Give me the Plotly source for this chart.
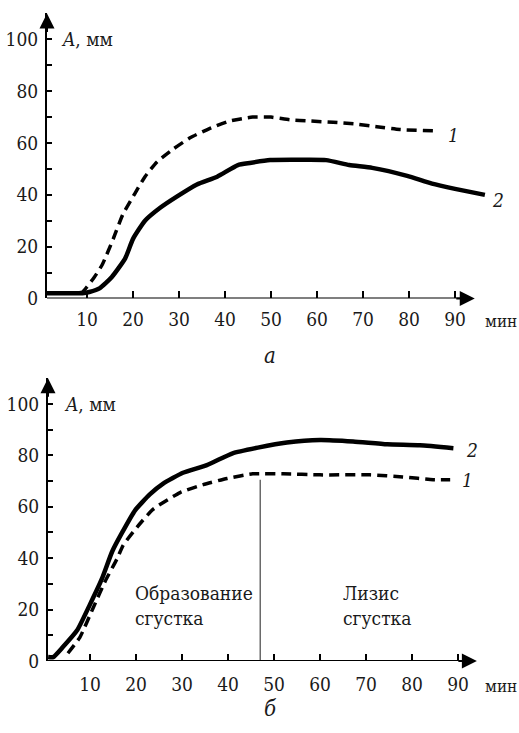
import plotly.graph_objects as go

# ---- data: panel "а" ----
a_t1 = [1.5, 4, 7, 9, 10, 11.5, 13.3, 15.7, 17.8, 20.4, 22.6, 25.2, 28.7, 32.4, 36.5, 41, 46, 50, 54, 58.5, 63.5, 68, 73, 78, 85.5]
a_v1 = [2, 2, 2, 2.5, 4.5, 8, 13, 23, 32.5, 40.5, 47, 52.7, 57.6, 62, 65.5, 68.5, 70, 70, 69, 68.5, 68, 67.4, 66.3, 65.2, 64.7]
a_t2 = [1.3, 4, 7, 9, 10.5, 12.8, 15.4, 18.3, 20, 22.6, 25.9, 29.6, 33.9, 38.3, 42.8, 45.4, 49.8, 55, 62, 67, 72, 79.6, 85, 90, 96.5]
a_v2 = [2, 2, 2, 2, 2.5, 4, 8.3, 15.5, 23, 30, 35, 39.4, 44, 47, 51.5, 52.3, 53.4, 53.5, 53.4, 51.5, 50.4, 47.3, 44.3, 42.3, 40]

# ---- data: panel "б" ----
b_t1 = [5.2, 7.8, 10.7, 13.3, 15.9, 17.2, 20.2, 23.7, 29.6, 34.6, 39.8, 45.4, 52, 60, 70.9, 78, 84.6, 88.3]
b_v1 = [3, 9.2, 20.7, 31, 39.8, 45, 52, 59, 65.5, 68.6, 71, 72.8, 72.8, 72.4, 72.4, 71.6, 70.5, 70.5]
b_t2 = [0.9, 2, 4.1, 7.2, 10, 12.6, 14.8, 17, 19.8, 23, 25.9, 30.2, 35.4, 41, 46.5, 52.8, 60, 67.2, 74.6, 81.7, 89]
b_v2 = [1.5, 1.5, 5.4, 11.9, 22, 32, 42.5, 50, 58.6, 64.8, 69, 73.2, 76.2, 80.8, 83, 85, 86, 85.4, 84.3, 83.9, 82.8]
lysis_t = [47, 47]
lysis_v = [0, 70.5]

x_ticks = [10, 20, 30, 40, 50, 60, 70, 80, 90]
y_ticks = [0, 10, 20, 30, 40, 50, 60, 70, 80, 90, 100]
y_ticktext = ["0", "", "20", "", "40", "", "60", "", "80", "", "100"]

W, H = 519, 733
FONT = "DejaVu Serif Condensed, DejaVu Serif, serif"
TXT = "#1a1a1a"

fig = go.Figure()
dash = "10px,6px"
fig.add_trace(go.Scatter(x=a_t1, y=a_v1, mode="lines", xaxis="x", yaxis="y",
                         line=dict(color="black", width=3.5, dash=dash, shape="spline", smoothing=0.5)))
fig.add_trace(go.Scatter(x=a_t2, y=a_v2, mode="lines", xaxis="x", yaxis="y",
                         line=dict(color="black", width=4.5, shape="spline", smoothing=0.5)))
fig.add_trace(go.Scatter(x=b_t1, y=b_v1, mode="lines", xaxis="x2", yaxis="y2",
                         line=dict(color="black", width=3.5, dash=dash, shape="spline", smoothing=0.5)))
fig.add_trace(go.Scatter(x=b_t2, y=b_v2, mode="lines", xaxis="x2", yaxis="y2",
                         line=dict(color="black", width=4.5, shape="spline", smoothing=0.5)))
fig.add_trace(go.Scatter(x=lysis_t, y=lysis_v, mode="lines", xaxis="x2", yaxis="y2",
                         line=dict(color="#444", width=1.2)))

def xax(dom, rng):
    # axis carrying the inside tick marks (labels drawn by an overlaid axis)
    return dict(domain=dom, range=rng, showline=False, showgrid=False, zeroline=False,
                ticks="inside", ticklen=7, tickwidth=1.5, tickcolor="black",
                tickvals=x_ticks, showticklabels=False, fixedrange=True)

def xlab(dom, rng, over, pos):
    # overlaid axis that only carries the tick labels, set slightly below the axis line
    return dict(domain=dom, range=rng, overlaying=over, anchor="free", position=pos,
                showline=False, showgrid=False, zeroline=False, ticks="",
                tickvals=x_ticks, tickfont=dict(family=FONT, size=19, color=TXT), fixedrange=True)

def yax(dom):
    return dict(domain=dom, range=[0, 110], showline=True, linewidth=2, linecolor="black",
                showgrid=False, zeroline=False, ticks="inside", ticklen=5, tickwidth=1.5,
                tickcolor="black", tickvals=y_ticks, ticktext=y_ticktext,
                tickfont=dict(family=FONT, size=19, color=TXT), ticklabelstandoff=3, fixedrange=True)

dom1 = [47 / W, 501 / W]
rng1 = [1.3, 100]
dom2 = [48 / W, 504 / W]
rng2 = [0.87, 100]
fig.update_layout(
    width=W, height=H, autosize=False,
    margin=dict(l=0, r=0, t=0, b=0),
    paper_bgcolor="white", plot_bgcolor="white", showlegend=False,
    font=dict(family=FONT),
    xaxis=xax(dom1, rng1) | dict(anchor="y"),
    yaxis=yax([(H - 303) / H, (H - 13.7) / H]) | dict(anchor="x"),
    xaxis2=xax(dom2, rng2) | dict(anchor="y2"),
    yaxis2=yax([(H - 671) / H, (H - 384) / H]) | dict(anchor="x2"),
    xaxis3=xlab(dom1, rng1, "x", (H - 303 - 8) / H),
    xaxis4=xlab(dom2, rng2, "x2", (H - 671 - 10) / H),
)
# invisible traces so the label axes are drawn
fig.add_trace(go.Scatter(x=[], y=[], xaxis="x3", yaxis="y", showlegend=False))
fig.add_trace(go.Scatter(x=[], y=[], xaxis="x4", yaxis="y2", showlegend=False))

shapes = []
ann = []
for xr, yr, x0, xend in (("x", "y", 1.3, 94.3), ("x2", "y2", 0.87, 94.1)):
    shapes.append(dict(type="line", xref=xr, yref=yr, x0=x0, x1=xend - 1, y0=0, y1=0,
                       line=dict(color="black", width=2)))
    ann.append(dict(xref=xr, yref=yr, x=xend, y=0, ax=-20, ay=0, text="", showarrow=True,
                    arrowhead=2, arrowsize=1.5, arrowwidth=2, arrowcolor="black", standoff=0))
    ann.append(dict(xref=xr, yref=yr, x=x0, y=110, ax=0, ay=20, text="", showarrow=True,
                    arrowhead=2, arrowsize=1.5, arrowwidth=2, arrowcolor="black", standoff=0))

def txt(xr, yr, x, y, s, size=19, xanchor="center", yshift=0, align="left"):
    ann.append(dict(xref=xr, yref=yr, x=x, y=y, text=s, showarrow=False, xanchor=xanchor,
                    yanchor="middle", yshift=yshift, align=align,
                    font=dict(family=FONT, size=size, color=TXT)))

# panel а
txt("x", "y", 3.8, 100, "<i>A</i>, мм", xanchor="left")
txt("paper", "y", 1.0, 0, "мин", size=17, xanchor="right", yshift=-23)
txt("x", "y", 49.8, 0, "<i>а</i>", size=22, yshift=-57)
txt("x", "y", 89.6, 63.1, "<i>1</i>")
txt("x", "y", 99.3, 38, "<i>2</i>")
# panel б
txt("x2", "y2", 4.0, 100, "<i>A</i>, мм", xanchor="left")
txt("paper", "y2", 1.0, 0, "мин", size=17, xanchor="right", yshift=-25)
txt("x2", "y2", 49.3, 0, "<i>б</i>", size=22, yshift=-48)
txt("x2", "y2", 92, 70.5, "<i>1</i>")
txt("x2", "y2", 93, 82, "<i>2</i>")
txt("x2", "y2", 19.3, 21.5, "Образование<br>сгустка", size=19, xanchor="left")
txt("x2", "y2", 64.5, 21.5, "Лизис<br>сгустка", size=19, xanchor="left")

fig.update_layout(shapes=shapes, annotations=ann)
fig.write_html("out.html", config={"displayModeBar": False},
               post_script="document.body.style.margin='0';document.body.style.overflow='hidden';")
